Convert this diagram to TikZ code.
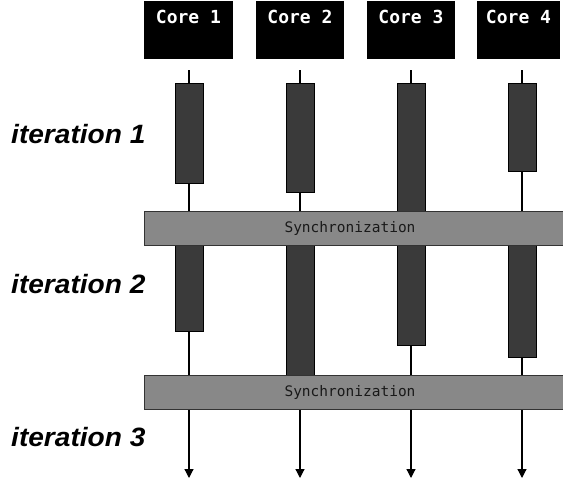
\documentclass[tikz,border=0pt]{standalone}
\usepackage{fontspec}
\setmainfont{Liberation Sans}
\newfontfamily\monofont{DejaVu Sans Mono}
\usetikzlibrary{arrows.meta}
\definecolor{barfill}{HTML}{3A3A3A}
\definecolor{syncfill}{HTML}{888888}
\begin{document}
\begin{tikzpicture}[x=1pt,y=-1pt,
  coretext/.style={text=white,font=\monofont\bfseries\fontsize{18}{18}\selectfont,anchor=north,inner sep=0pt},
  workbar/.style={fill=barfill,draw=black,line width=0.8pt},
  syncbar/.style={fill=syncfill,draw=black!80,line width=0.8pt},
  synctext/.style={font=\monofont\fontsize{14.5}{14.5}\selectfont,text=black!90},
  timeline/.style={line width=1.2pt,-{Triangle[width=9pt,length=9pt]}},
  iterlabel/.style={font=\bfseries\itshape\fontsize{26.5}{26.5}\selectfont,anchor=west,inner sep=0pt,xscale=1.06}]
\useasboundingbox (0,0) rectangle (563,482);
% core boxes
\foreach \i/\l/\r in {1/144/233,2/256/344,3/367/455,4/477/560}{
  \fill[black] (\l,1) rectangle (\r,59);
  \node[coretext] (core\i) at ({(\l+\r)/2},10) {Core \i};
}
% timelines
\foreach \i/\x in {1/189,2/300,3/411,4/522}{
  \coordinate (top\i) at (\x,70);
  \coordinate (end\i) at (\x,478);
  \draw[timeline] (top\i) -- (end\i);
}
% iteration 1 bars
\foreach \i/\x/\b in {1/189/183,2/300/192,3/411/211,4/522/171}{
  \draw[workbar] (\x-14,83) rectangle (\x+14,\b);
}
% iteration 2 bars
\foreach \i/\x/\b in {1/189/331,2/300/375,3/411/345,4/522/357}{
  \draw[workbar] (\x-14,245) rectangle (\x+14,\b);
}
% sync bars
\draw[syncbar] (144.5,211) rectangle (566,245);
\node[synctext] (sync1) at (350,228) {Synchronization};
\draw[syncbar] (144.5,375) rectangle (566,409);
\node[synctext] (sync2) at (350,392) {Synchronization};
% labels
\node[iterlabel] (it1) at (11,134) {iteration 1};
\node[iterlabel] (it2) at (11,284) {iteration 2};
\node[iterlabel] (it3) at (11,437) {iteration 3};
\end{tikzpicture}
\end{document}
